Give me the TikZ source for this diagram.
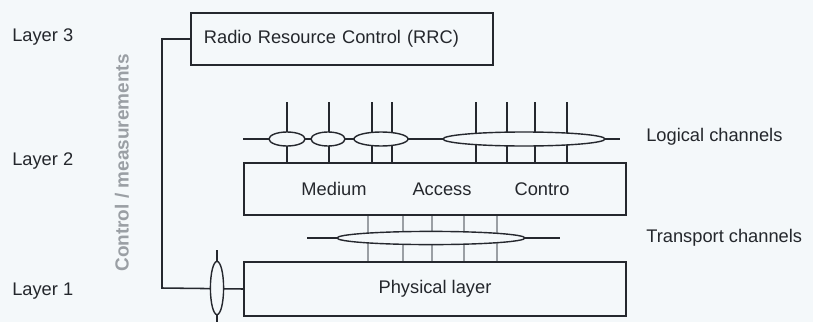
\documentclass[tikz,border=0pt]{standalone}
\usepackage{fontspec}
\setmainfont{Liberation Sans}
\usetikzlibrary{shapes.geometric, positioning, calc, backgrounds}
\definecolor{LineDark}{HTML}{25282E}
\definecolor{TextDark}{HTML}{24272C}
\definecolor{PaperBg}{HTML}{F4F8FA}
\definecolor{FadedGray}{HTML}{9A9FA4}

\begin{document}
\begin{tikzpicture}[
        x=0.025cm, y=-0.025cm,
        layerbox/.style={rectangle, draw=LineDark, line width=1.2pt, fill=PaperBg, minimum width=9.55cm, minimum height=1.3cm, inner sep=0pt, font=\fontsize{13}{15}\selectfont, text=TextDark},
        rrcbox/.style={layerbox, minimum width=0pt, text width=6.9cm, align=left, inner xsep=0.325cm},
        chan/.style={ellipse, draw=LineDark, line width=1pt, fill=PaperBg, inner sep=0pt, minimum height=0.35cm},
        lbl/.style={anchor=west, inner sep=0pt, font=\fontsize{13}{15}\selectfont, text=TextDark},
        wire/.style={LineDark, line width=1.1pt},
        faint/.style={FadedGray, line width=1.1pt}
      ]
        \useasboundingbox (0,0) rectangle (813,322);

        % layer names
        \node[lbl] (l3) at (12,37) {Layer 3};
        \node[lbl] (l2) at (12,161) {Layer 2};
        \node[lbl] (l1) at (12,291) {Layer 1};
        \node[lbl, anchor=center, rotate=90, text=FadedGray, font=\fontsize{13.5}{15}\selectfont\bfseries] (ctl) at (122,163) {Control / measurements};

        % boxes
        \node[rrcbox] (rrc) at (342,39) {Radio Resource Control (RRC)};
        \node[layerbox] (mac) at (435,189) {};
        \node[layerbox, minimum height=1.35cm] (phy) at (435,289) {Physical layer};
        \node[lbl, anchor=center] (med) at (334,189) {Medium};
        \node[lbl, anchor=center] (acc) at (442,189) {Access};
        \node[lbl, anchor=center] (con) at (542,189) {Contro};

        % logical channels
        \node[chan, minimum width=0.9cm] (lc1) at (287,139) {};
        \node[chan, minimum width=0.85cm] (lc2) at (328,139) {};
        \node[chan, minimum width=1.35cm] (lc3) at (381,139) {};
        \node[chan, minimum width=4.05cm] (lc4) at (524,139) {};
        \node[lbl] (logl) at (646,137) {Logical channels};

        % transport channels
        \node[chan, minimum width=4.7cm, minimum height=0.33cm] (tc) at (431,238) {};
        \node[lbl] (trl) at (646,238) {Transport channels};

        % control link
        \node[chan, minimum width=0.33cm, minimum height=1.33cm] (sel) at (217,288) {};

        \coordinate (lstart) at (243,139);
        \coordinate (lend) at (620,139);
        \coordinate (tstart) at (307,238);
        \coordinate (tend) at (560,238);
        \coordinate (bend) at (162,288);
        \coordinate (selt) at (217,250);
        \coordinate (selb) at (217,322);

        \begin{pgfonlayer}{background}
          \fill[PaperBg] (0,0) rectangle (813,322);
          \foreach \x in {287,329,372,392,476,507,535,567} {
            \coordinate (lt) at (\x,102);
            \draw[wire] (lt) -- (lt |- mac.north);
          }
          \foreach \x in {368,403,432,464,497} {
            \coordinate (tx) at (\x,0);
            \draw[faint] (tx |- mac.south) -- (tx |- phy.north);
          }
          \draw[wire] (lstart) -- (lend);
          \draw[wire] (tstart) -- (tend);
          \draw[wire] (rrc.west) -| (bend) -- (phy.west);
          \draw[wire] (selt) -- (selb);
        \end{pgfonlayer}
      \end{tikzpicture}
\end{document}
